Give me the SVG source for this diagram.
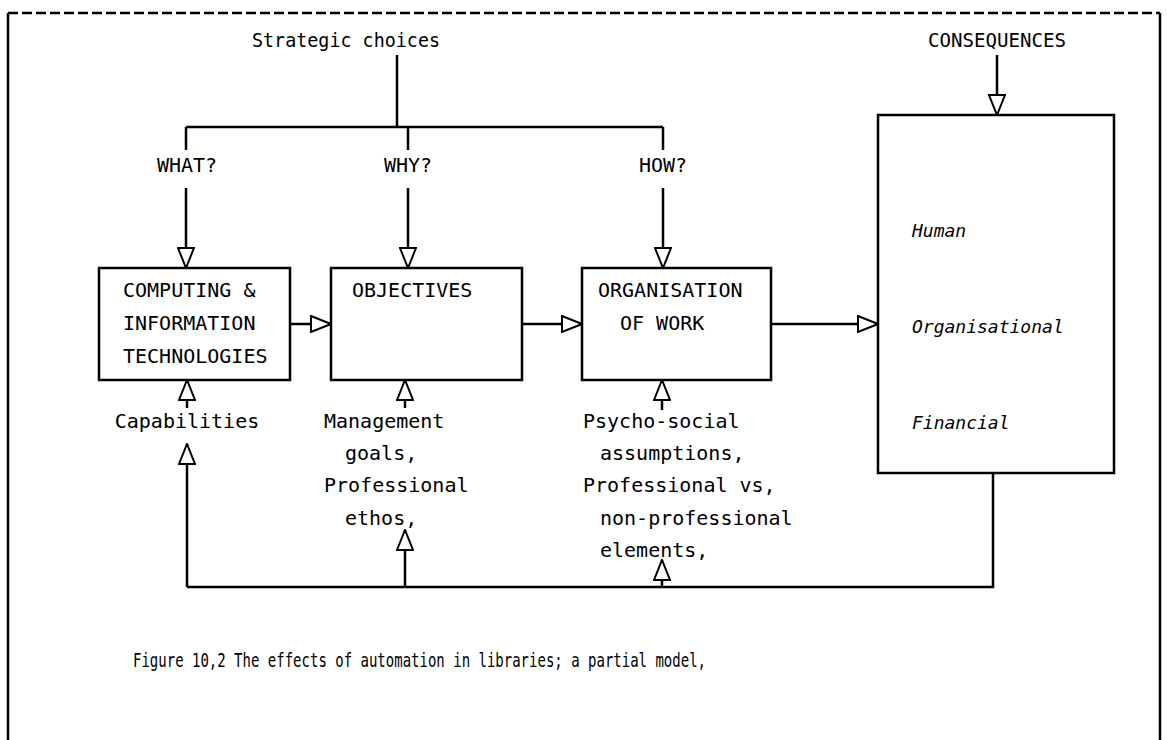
<svg xmlns="http://www.w3.org/2000/svg" width="1167" height="740" viewBox="0 0 1167 740">
  <style>
    .t { font-family: "DejaVu Sans Mono", "Liberation Mono", monospace; font-size: 20px; fill: #000; }
    .i { font-style: italic; font-size: 18px; }
    .box { fill: #fff; stroke: #000; stroke-width: 2.5; }
    .ln { fill: none; stroke: #000; stroke-width: 2.5; }
    .arr { fill: none; stroke: #000; stroke-width: 2.5; marker-end: url(#tri); }
    .frame { fill: none; stroke: #000; stroke-width: 2.5; }
  </style>
  <defs>
    <marker id="tri" viewBox="0 0 22 18" refX="21" refY="9" markerWidth="22" markerHeight="18" markerUnits="userSpaceOnUse" orient="auto">
      <path d="M1,1 L21,9 L1,17 Z" fill="#fff" stroke="#000" stroke-width="2"/>
    </marker>
  </defs>
  <rect width="1167" height="740" fill="#fff"/>

  <!-- page frame: dashed top, solid sides -->
  <g id="frame">
    <line class="frame" x1="8" y1="13" x2="1160" y2="13" stroke-dasharray="10 4"/>
    <line class="frame" x1="8" y1="13" x2="8" y2="740"/>
    <line class="frame" x1="1160" y1="13" x2="1160" y2="740"/>
  </g>

  <!-- connectors -->
  <g id="connectors">
    <!-- strategic choices tree -->
    <line class="ln" x1="397" y1="55" x2="397" y2="127"/>
    <line class="ln" x1="186" y1="127" x2="663" y2="127"/>
    <line class="ln" x1="186" y1="127" x2="186" y2="150"/>
    <line class="ln" x1="408" y1="127" x2="408" y2="150"/>
    <line class="ln" x1="663" y1="127" x2="663" y2="150"/>
    <line class="arr" x1="186" y1="188" x2="186" y2="268"/>
    <line class="arr" x1="408" y1="188" x2="408" y2="268"/>
    <line class="arr" x1="663" y1="188" x2="663" y2="268"/>
    <!-- consequences -->
    <line class="arr" x1="997" y1="55" x2="997" y2="115"/>
    <!-- horizontal flow -->
    <line class="arr" x1="290" y1="324" x2="331" y2="324"/>
    <line class="arr" x1="522" y1="324" x2="582" y2="324"/>
    <line class="arr" x1="771" y1="324" x2="878" y2="324"/>
    <!-- inputs from below -->
    <line class="arr" x1="187" y1="408" x2="187" y2="380"/>
    <line class="arr" x1="405" y1="408" x2="405" y2="380"/>
    <line class="arr" x1="662" y1="410" x2="662" y2="380"/>
    <!-- feedback loop -->
    <polyline class="ln" points="993,473 993,587 187,587"/>
    <line class="arr" x1="187" y1="587" x2="187" y2="444"/>
    <line class="arr" x1="405" y1="587" x2="405" y2="530"/>
    <line class="arr" x1="662" y1="587" x2="662" y2="560"/>
  </g>

  <!-- labels on the connectors -->
  <g id="labels">
    <text class="t" x="346" y="47" textLength="188" lengthAdjust="spacingAndGlyphs" text-anchor="middle">Strategic choices</text>
    <text class="t" x="187" y="172" text-anchor="middle">WHAT?</text>
    <text class="t" x="408" y="172" text-anchor="middle">WHY?</text>
    <text class="t" x="663" y="172" text-anchor="middle">HOW?</text>
    <text class="t" x="997" y="47" textLength="138" lengthAdjust="spacingAndGlyphs" text-anchor="middle">CONSEQUENCES</text>
  </g>

  <g id="computing">
    <rect class="box" x="99" y="268" width="191" height="112"/>
    <text class="t" x="123" y="297">COMPUTING &amp;</text>
    <text class="t" x="123" y="330">INFORMATION</text>
    <text class="t" x="123" y="363">TECHNOLOGIES</text>
  </g>

  <g id="objectives">
    <rect class="box" x="331" y="268" width="191" height="112"/>
    <text class="t" x="352" y="297">OBJECTIVES</text>
  </g>

  <g id="organisation">
    <rect class="box" x="582" y="268" width="189" height="112"/>
    <text class="t" x="598" y="297">ORGANISATION</text>
    <text class="t" x="620" y="330">OF WORK</text>
  </g>

  <g id="consequences">
    <rect class="box" x="878" y="115" width="236" height="358"/>
    <text class="t i" x="912" y="237">Human</text>
    <text class="t i" x="912" y="333">Organisational</text>
    <text class="t i" x="912" y="429">Financial</text>
  </g>

  <g id="capabilities">
    <text class="t" x="187" y="428" text-anchor="middle">Capabilities</text>
  </g>

  <g id="goals">
    <text class="t" x="324" y="428">Management</text>
    <text class="t" x="345" y="460">goals,</text>
    <text class="t" x="324" y="492">Professional</text>
    <text class="t" x="345" y="525">ethos,</text>
  </g>

  <g id="assumptions">
    <text class="t" x="583" y="428">Psycho-social</text>
    <text class="t" x="600" y="460">assumptions,</text>
    <text class="t" x="583" y="492">Professional vs,</text>
    <text class="t" x="600" y="525">non-professional</text>
    <text class="t" x="600" y="557">elements,</text>
  </g>

  <g id="caption">
    <text class="t" x="133" y="667" textLength="573" lengthAdjust="spacingAndGlyphs">Figure 10,2 The effects of automation in libraries; a partial model,</text>
  </g>
</svg>
